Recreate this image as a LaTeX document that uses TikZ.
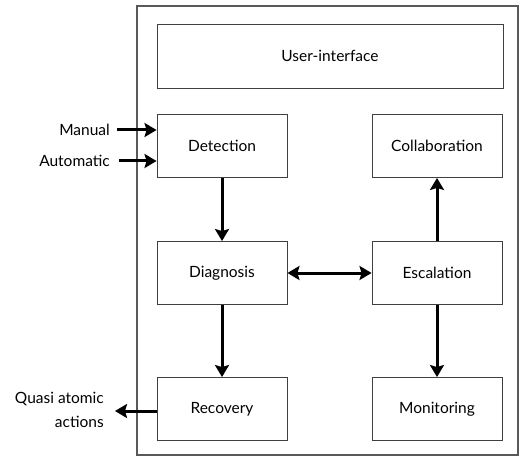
\documentclass[tikz,border=0pt]{standalone}
\usepackage{fontspec}
\setmainfont{Lato}
\usetikzlibrary{arrows.meta}
\begin{document}
\begin{tikzpicture}[x=1pt,y=-1pt,
  box/.style={draw=black!75,line width=0.9pt,minimum width=130pt,minimum height=63pt,inner sep=0pt,font=\fontsize{15.5}{18}\selectfont},
  tip/.tip={Stealth[length=12pt,width=14pt,inset=2pt]},
  arr/.style={line width=3pt,-tip},
  lbl/.style={font=\fontsize{15.5}{24}\selectfont,inner sep=0pt}]
\useasboundingbox (0,0) rectangle (521,462);
\draw[black!65,line width=1.2pt] (137,6) rectangle (518,455);
\node[box,minimum width=346pt,minimum height=64pt] (ui) at (330,56) {User-interface};
\node[box] (det) at (222,146) {Detection};
\node[box] (col) at (437,146) {Collaboration};
\node[box] (dia) at (222,273) {Diagnosis};
\node[box] (esc) at (437,273) {Escalation};
\node[box] (rec) at (222,409) {Recovery};
\node[box] (mon) at (437,409) {Monitoring};
\node[lbl,anchor=east] (man) at (110,130) {Manual};
\node[lbl,anchor=east] (aut) at (110,161) {Automatic};
\node[lbl,anchor=east,align=right] (qaa) at (104,410) {Quasi atomic\\actions};
\coordinate (manE) at (117,130);
\coordinate (autE) at (119,161);
\coordinate (qaaE) at (115,411);
\draw[arr] (manE) -- (det.west |- manE);
\draw[arr] (autE) -- (det.west |- autE);
\draw[arr] (rec.west |- qaaE) -- (qaaE);
\draw[arr] (det) -- (dia);
\draw[arr] (dia) -- (rec);
\draw[arr] (esc) -- (col);
\draw[arr] (esc) -- (mon);
\draw[arr,tip-tip] (dia) -- (esc);
\end{tikzpicture}
\end{document}
